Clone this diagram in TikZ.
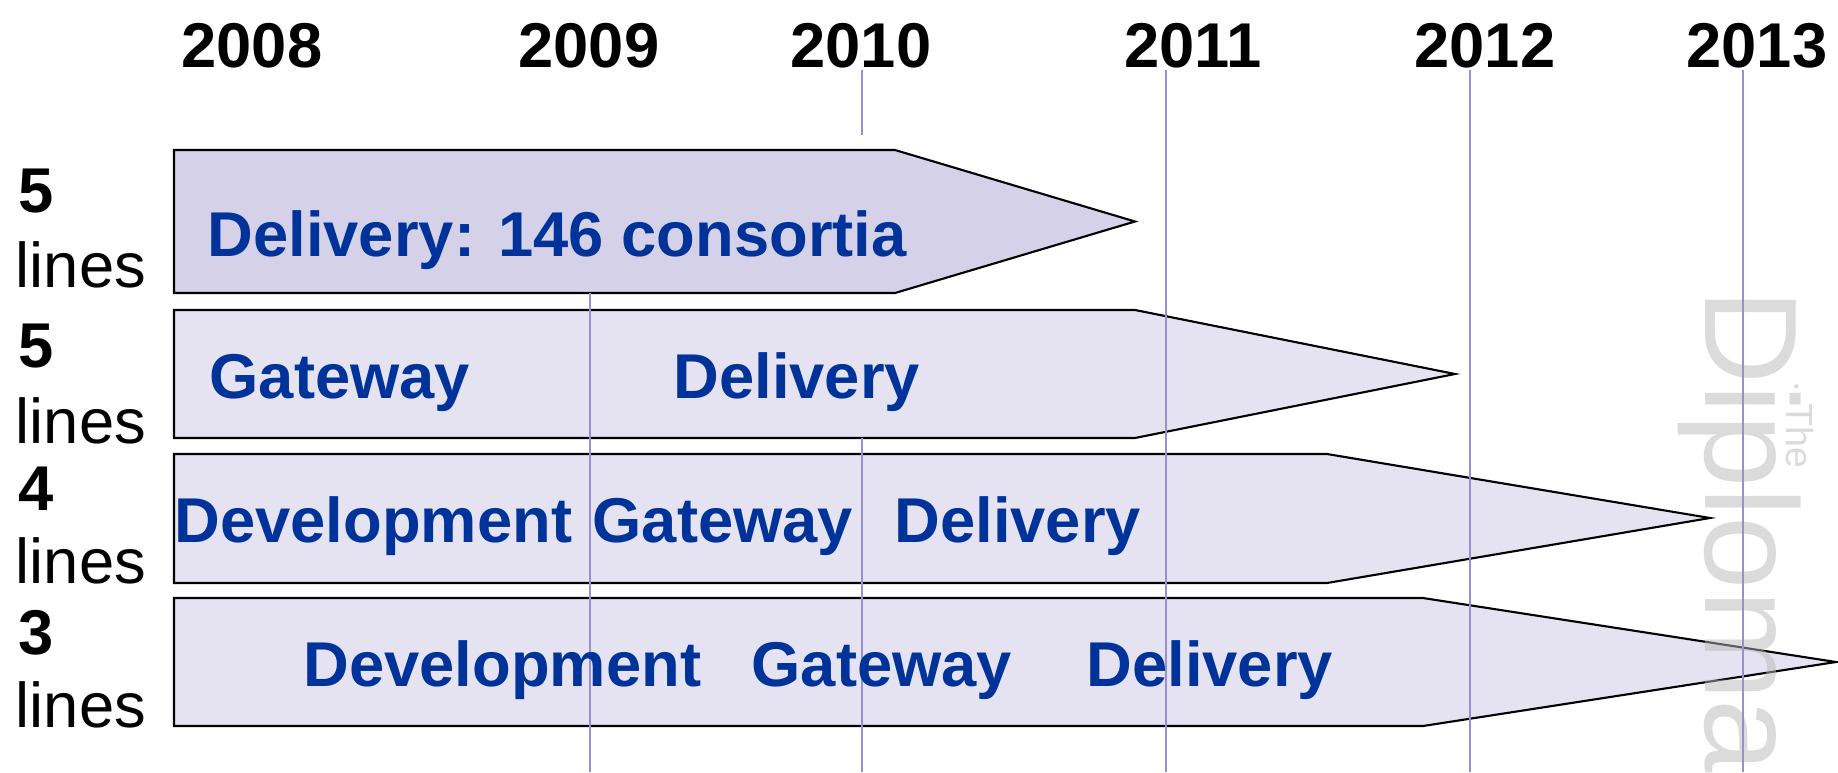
\documentclass[tikz,border=0pt]{standalone}
\usepackage{fontspec}
\setmainfont{Liberation Sans}
\definecolor{rowdark}{RGB}{212,209,232}
\definecolor{rowlight}{RGB}{229,227,242}
\definecolor{gridline}{RGB}{150,143,212}
\definecolor{phaseblue}{RGB}{0,51,153}
\tikzset{
  rowshape/.style={draw=black, line width=0.6pt, line join=miter},
  grid/.style={draw=gridline, line width=0.45pt},
  year/.style={inner sep=0pt, anchor=base, font=\fontsize{18}{21}\selectfont\bfseries},
  countlbl/.style={inner sep=0pt, anchor=base west, font=\fontsize{18}{21}\selectfont\bfseries},
  lineslbl/.style={inner sep=0pt, anchor=base west, font=\fontsize{18}{21}\selectfont},
  phase/.style={inner sep=0pt, anchor=base west, text=phaseblue, font=\fontsize{18}{21}\selectfont\bfseries},
  wmark/.style={inner sep=0pt, anchor=base west, rotate=-90, text=black!28, opacity=0.5}
}
\begin{document}
\begin{tikzpicture}[x=0.01cm, y=-0.01cm]
\useasboundingbox (0,0) rectangle (1838,772);
% arrows
\path[rowshape, fill=rowdark] (174,150) -- (895,150) -- (1135,221.5) -- (895,293) -- (174,293) -- cycle;
\path[rowshape, fill=rowlight] (174,310) -- (1135,310) -- (1455,374) -- (1135,438) -- (174,438) -- cycle;
\path[rowshape, fill=rowlight] (174,454) -- (1327,454) -- (1710,518) -- (1327,583) -- (174,583) -- cycle;
\path[rowshape, fill=rowlight] (174,598) -- (1423,598) -- (1836,662) -- (1423,726) -- (174,726) -- cycle;
% watermark
\node[wmark, font=\fontsize{37.5}{40}\selectfont] (wdip) at (1705,289) {Diploma};
\node[wmark, font=\fontsize{10.7}{12}\selectfont] (wthe) at (1786,380) {·\ The};
% year grid lines
\coordinate (g9a) at (590,293);  \coordinate (g9b) at (590,772);
\coordinate (g10a) at (862,70);  \coordinate (g10b) at (862,135);
\coordinate (g10c) at (862,438); \coordinate (g10d) at (862,772);
\coordinate (g11a) at (1166,70); \coordinate (g11b) at (1166,772);
\coordinate (g12a) at (1470,70); \coordinate (g12b) at (1470,772);
\coordinate (g13a) at (1743,70); \coordinate (g13b) at (1743,772);
\draw[grid] (g9a) -- (g9b);
\draw[grid] (g10a) -- (g10b);
\draw[grid] (g10c) -- (g10d);
\draw[grid] (g11a) -- (g11b);
\draw[grid] (g12a) -- (g12b);
\draw[grid] (g13a) -- (g13b);
% years
\node[year] (y2008) at (252,67) {2008};
\node[year] (y2009) at (589,67) {2009};
\node[year] (y2010) at (861,67) {2010};
\node[year] (y2011) at (1193,67) {2011};
\node[year] (y2012) at (1485,67) {2012};
\node[year] (y2013) at (1757,67) {2013};
% left labels
\node[countlbl] (c1) at (18,212) {5};
\node[lineslbl] (l1) at (15,287) {lines};
\node[countlbl] (c2) at (18,367) {5};
\node[lineslbl] (l2) at (15,443) {lines};
\node[countlbl] (c3) at (18,510) {4};
\node[lineslbl] (l3) at (15,583) {lines};
\node[countlbl] (c4) at (18,654) {3};
\node[lineslbl] (l4) at (15,727) {lines};
% phases
\node[phase] (p1) at (207,256) {Delivery: 146 consortia};
\node[phase] (p2a) at (209,398) {Gateway};
\node[phase] (p2b) at (673,398) {Delivery};
\node[phase] (p3a) at (174,542) {Development};
\node[phase] (p3b) at (592,542) {Gateway};
\node[phase] (p3c) at (894,542) {Delivery};
\node[phase] (p4a) at (303,686) {Development};
\node[phase] (p4b) at (751,686) {Gateway};
\node[phase] (p4c) at (1086,686) {Delivery};
\end{tikzpicture}
\end{document}
